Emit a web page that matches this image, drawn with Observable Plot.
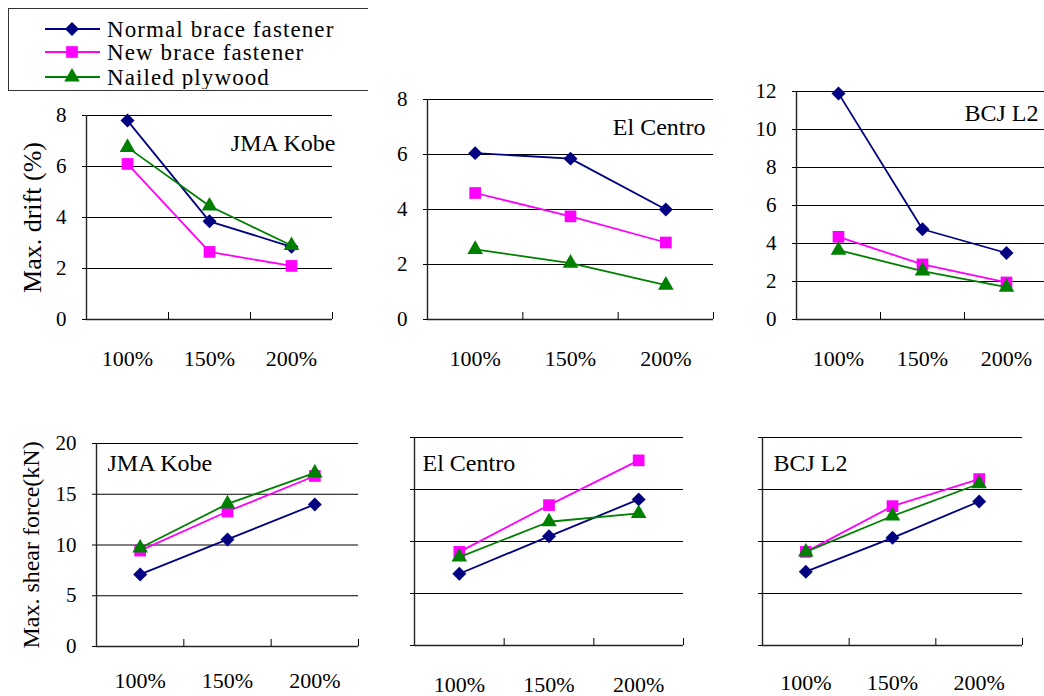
<!DOCTYPE html>
<html><head><meta charset="utf-8">
<script src="https://cdn.jsdelivr.net/npm/d3@7"></script>
<script src="https://cdn.jsdelivr.net/npm/@observablehq/plot@0.6"></script>
<style>
body{margin:0;background:#fff;}
#root{position:relative;width:1044px;height:696px;overflow:hidden;font-family:"Liberation Serif","Times New Roman",serif;color:#000;}
.panel{position:absolute;}
.panel svg{overflow:visible;max-width:none !important;}
#root svg, #root svg text{font-family:"Liberation Serif","Times New Roman",serif !important;}
</style></head><body><div id="root"></div>
<script>
// ---- categories / series ----
const categories = ["100%", "150%", "200%"];
const seriesNames = ["Normal brace fastener", "New brace fastener", "Nailed plywood"];
const seriesColors = ["#000080", "#ff00ff", "#008000"];
const seriesSymbols = ["diamond2", "square", "triangle"];
const seriesRadius = [6.3, 6.6, 5.8];
const quakeLabels = ["JMA Kobe", "El Centro", "BCJ L2"];

// ---- Max. drift (%) ----
const driftKobeNormal   = [7.8, 3.85, 2.85];
const driftKobeNew      = [6.1, 2.65, 2.1];
const driftKobeNailed   = [6.75, 4.45, 2.9];
const driftCentroNormal = [6.05, 5.85, 4.0];
const driftCentroNew    = [4.6, 3.75, 2.8];
const driftCentroNailed = [2.55, 2.05, 1.25];
const driftBcjNormal    = [11.9, 4.75, 3.5];
const driftBcjNew       = [4.35, 2.9, 1.95];
const driftBcjNailed    = [3.65, 2.55, 1.7];

// ---- Max. shear force (kN) ----
const shearKobeNormal   = [7.1, 10.55, 14.0];
const shearKobeNew      = [9.45, 13.3, 16.8];
const shearKobeNailed   = [9.7, 14.05, 17.1];
const shearCentroNormal = [6.9, 10.5, 14.05];
const shearCentroNew    = [9.0, 13.5, 17.8];
const shearCentroNailed = [8.5, 11.9, 12.7];
const shearBcjNormal    = [7.1, 10.35, 13.85];
const shearBcjNew       = [9.0, 13.4, 16.0];
const shearBcjNailed    = [9.0, 12.45, 15.55];

// ---- tick values ----
const driftTicks = [0, 2, 4, 6, 8];
const driftTicksBcj = [0, 2, 4, 6, 8, 10, 12];
const shearTicks = [0, 5, 10, 15, 20];
const yTitles = ["Max. drift (%)", "Max. shear force(kN)"];

// ---- layout (frame boxes in page pixels) ----
const panels = [
  {series:[driftKobeNormal, driftKobeNew, driftKobeNailed], ticks:driftTicks, labels:true, title:yTitles[0], titleSize:26, titleDx:-54,
   label:quakeLabels[0], frame:[86,115,332,319], labelRight:true, ldx:3, ldy:28, xPad:31},
  {series:[driftCentroNormal, driftCentroNew, driftCentroNailed], ticks:driftTicks, labels:true,
   label:quakeLabels[1], frame:[427,99,713,319], labelRight:true, ldx:-8, ldy:28, xPad:31},
  {series:[driftBcjNormal, driftBcjNew, driftBcjNailed], ticks:driftTicksBcj, labels:true,
   label:quakeLabels[2], frame:[796,91,1048,319], labelRight:true, ldx:-10, ldy:22, xPad:31},
  {series:[shearKobeNormal, shearKobeNew, shearKobeNailed], ticks:shearTicks, labels:true, title:yTitles[1], titleSize:24, titleDx:-65,
   label:quakeLabels[0], frame:[96,443,358,646], labelRight:false, ldx:11, ldy:20, xPad:26},
  {series:[shearCentroNormal, shearCentroNew, shearCentroNailed], ticks:shearTicks, labels:false,
   label:quakeLabels[1], frame:[414,437,683,645], labelRight:false, ldx:8, ldy:26, xPad:31},
  {series:[shearBcjNormal, shearBcjNew, shearBcjNailed], ticks:shearTicks, labels:false,
   label:quakeLabels[2], frame:[762,437,1022,645], labelRight:false, ldx:11, ldy:26, xPad:29}
];

const root = document.getElementById("root");
const M = {left: 100, right: 20, top: 20, bottom: 70};
const SERIF = '"Liberation Serif","Times New Roman",serif';

function makePanel(p) {
  const [l, t, r, b] = p.frame;
  const yMax = p.ticks[p.ticks.length - 1];
  const marks = [
    Plot.ruleY(p.ticks.filter(d => d > 0), {stroke: "#000", strokeWidth: 1}),
    Plot.ruleY([0], {stroke: "#222", strokeWidth: 1.4}),
    Plot.ruleX([0], {stroke: "#222", strokeWidth: 1.4}),
    Plot.axisY({ticks: p.ticks, tickSize: 4, tickPadding: 16, label: null, fontSize: 21, fontFamily: SERIF,
      tickFormat: p.labels ? (d => String(d)) : (() => "")}),
    Plot.axisX({ticks: [1, 2, 3], tickSize: -7, tickFormat: () => "", label: null}),
    Plot.axisX({ticks: categories.map((c, i) => i + 0.5), tickSize: 0, tickPadding: p.xPad, label: null, fontSize: 22, fontFamily: SERIF,
      tickFormat: d => categories[Math.floor(d)]})
  ];
  p.series.forEach((vals, si) => {
    const rows = vals.map((v, ci) => ({cat: categories[ci], xi: ci + 0.5, v}));
    marks.push(Plot.line(rows, {x: "xi", y: "v", stroke: seriesColors[si], strokeWidth: 1.8}));
    marks.push(Plot.dot(rows, {x: "xi", y: "v", symbol: seriesSymbols[si], r: seriesRadius[si], fill: seriesColors[si], stroke: "none"}));
  });
  marks.push(Plot.text([p.label], {
    frameAnchor: p.labelRight ? "top-right" : "top-left",
    textAnchor: p.labelRight ? "end" : "start",
    lineAnchor: "middle", dx: p.ldx, dy: p.ldy, fontSize: 24, fontFamily: SERIF, fill: "#000",
    style: "letter-spacing:1.3px"
  }));
  if (p.title) {
    marks.push(Plot.text([p.title], {frameAnchor: "left", dx: p.titleDx, rotate: -90, textAnchor: "middle",
      lineAnchor: "middle", fontSize: p.titleSize, fontFamily: SERIF, fill: "#000"}));
  }
  const W = (r - l) + M.left + M.right, H = (b - t) + M.top + M.bottom;
  const chart = Plot.plot({
    width: W, height: H,
    marginLeft: M.left, marginRight: M.right, marginTop: M.top, marginBottom: M.bottom,
    x: {type: "linear", domain: [0, 3], label: null},
    y: {domain: [0, yMax], label: null},
    style: {fontFamily: SERIF, fontSize: "21px", color: "#000", background: "transparent", overflow: "visible", maxWidth: "none"},
    marks
  });
  const div = document.createElement("div");
  div.className = "panel";
  div.style.left = (l - M.left) + "px";
  div.style.top = (t - M.top) + "px";
  div.style.width = W + "px";
  div.style.height = H + "px";
  div.appendChild(chart);
  root.appendChild(div);
}
panels.forEach(makePanel);

// ---- legend ----
const lg = d3.select(root).append("div")
  .style("position", "absolute").style("left", "8px").style("top", "8px")
  .style("width", "359px").style("height", "81px")
  .style("border-top", "1.5px solid #333").style("border-bottom", "1.5px solid #333").style("border-left", "1.5px solid #333")
  .style("background", "#fff");
const lsvg = lg.append("svg").attr("width", 359).attr("height", 81).style("position", "absolute").style("left", "-1.5px").style("top", "-1.5px");
const rowY = [21, 44, 69];
seriesNames.forEach((name, i) => {
  const y = rowY[i];
  lsvg.append("line").attr("x1", 37).attr("x2", 92).attr("y1", y).attr("y2", y)
    .attr("stroke", seriesColors[i]).attr("stroke-width", 1.8);
  const sym = {diamond2: d3.symbolDiamond2, square: d3.symbolSquare, triangle: d3.symbolTriangle}[seriesSymbols[i]];
  lsvg.append("path").attr("transform", `translate(64,${y})`)
    .attr("d", d3.symbol(sym, Math.PI * seriesRadius[i] * seriesRadius[i])())
    .attr("fill", seriesColors[i]);
  lsvg.append("text").attr("x", 99).attr("y", y + 7.5).text(name)
    .attr("font-size", 23).attr("letter-spacing", "1.1px")
    .attr("font-family", SERIF).attr("fill", "#000");
});
</script>
</body></html>
